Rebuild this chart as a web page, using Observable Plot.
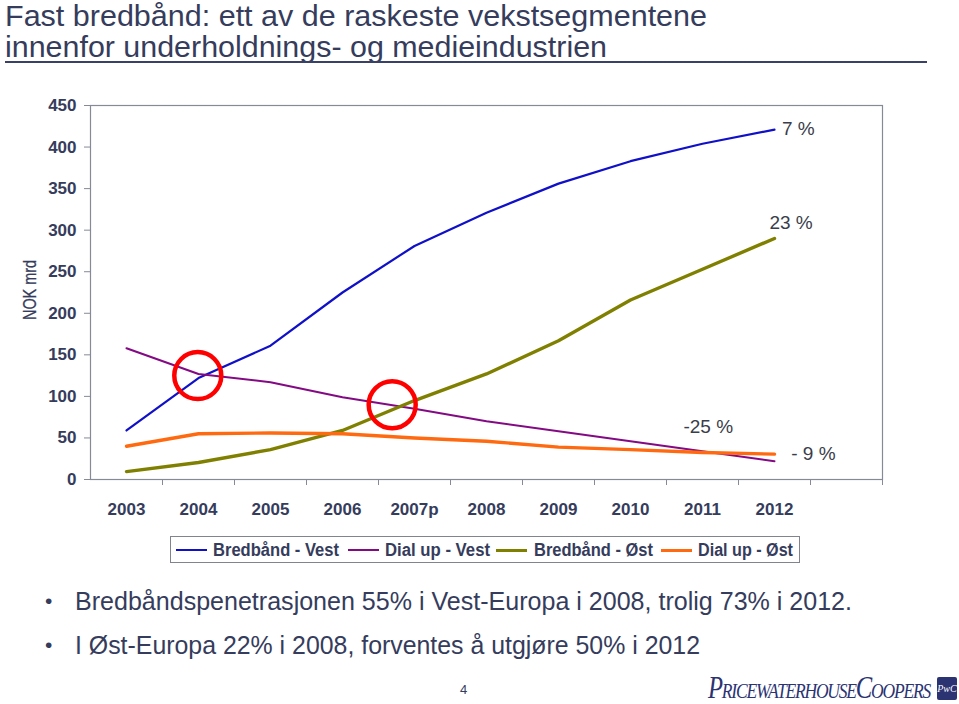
<!DOCTYPE html>
<html>
<head>
<meta charset="utf-8">
<script src="https://cdn.jsdelivr.net/npm/d3@7"></script>
<script src="https://cdn.jsdelivr.net/npm/@observablehq/plot@0.6"></script>
<style>
  html, body { margin: 0; padding: 0; background: #fff; }
  #page { position: relative; width: 959px; height: 704px; overflow: hidden; font-family: "Liberation Sans", Arial, sans-serif; color: #353c5c; }
  .title { position: absolute; left: 5px; font-size: 29.5px; line-height: 30px; white-space: nowrap; color: #353c5c; transform-origin: left center; }
  #rule { position: absolute; left: 5px; top: 61px; width: 922px; height: 2px; background: #3a4166; }
  #ylabel { position: absolute; left: 30px; top: 290px; font-size: 17.5px; line-height: 18px; white-space: nowrap; color: #353c5c; -webkit-text-stroke: 0.3px #353c5c; }
  #chart { position: absolute; left: 0; top: 95px; }
  #legendbox { position: absolute; left: 170px; top: 536px; width: 630px; height: 27px; border: 1px solid #80848f; box-sizing: border-box; }
  .lgsw { position: absolute; width: 31px; }
  .lgtx { position: absolute; top: 539px; font-weight: bold; font-size: 18px; line-height: 22px; white-space: nowrap; color: #353c5c; transform-origin: left center; }
  .bullet { position: absolute; left: 75px; font-size: 25px; line-height: 30px; white-space: nowrap; color: #353c5c; transform-origin: left center; }
  .dot { position: absolute; left: 45px; font-size: 21px; line-height: 24px; color: #353c5c; }
  #pagenum { position: absolute; left: 460px; top: 682px; font-size: 13px; }
  #logo { position: absolute; left: 708px; top: 671px; font-family: "Liberation Serif", serif; font-style: italic; font-size: 31px; line-height: 34px; font-variant: small-caps; letter-spacing: -1.5px; color: #2b3372; white-space: nowrap; transform-origin: left center; }
  #logobox { position: absolute; left: 937px; top: 677px; width: 20px; height: 23px; background: #2b3372; border-radius: 2px; color: #fff; font-size: 10px; font-family: "Liberation Serif", serif; font-style: italic; text-align: center; line-height: 23px; }
</style>
</head>
<body>
<div id="page">
  <div class="title fit" data-w="702" style="top:1px">Fast bredbånd: ett av de raskeste vekstsegmentene</div>
  <div class="title fit" data-w="602" style="top:32px">innenfor underholdnings- og medieindustrien</div>
  <div id="rule"></div>
  <div id="ylabel">NOK mrd</div>
  <div id="chart"></div>
  <div id="legendbox"></div>
  <div class="dot" style="top:589px">•</div>
  <div class="bullet fit" data-w="777" style="top:586px">Bredbåndspenetrasjonen 55% i Vest-Europa i 2008, trolig 73% i 2012.</div>
  <div class="dot" style="top:633px">•</div>
  <div class="bullet fit" data-w="625" style="top:630px">I Øst-Europa 22% i 2008, forventes å utgjøre 50% i 2012</div>
  <div id="pagenum">4</div>
  <div id="logo" class="fit" data-w="222">PricewaterhouseCoopers</div>
  <div id="logobox">PwC</div>
</div>
<script>
// ---- data ----
const years = ["2003", "2004", "2005", "2006", "2007p", "2008", "2009", "2010", "2011", "2012"];
const seriesNames = ["Bredbånd - Vest", "Dial up - Vest", "Bredbånd - Øst", "Dial up - Øst"];
const bredbandVest = [59, 122, 161, 225, 281, 321, 356, 383, 404, 421];
const dialupVest   = [158, 127, 117, 99, 85, 70, 58, 46, 34, 22];
const bredbandOst  = [9.5, 20.5, 36, 59, 95, 127, 167, 216, 253, 290];
const dialupOst    = [40, 55, 56, 55, 50, 46, 39, 36, 32.5, 30.5];
const yTicks = [0, 50, 100, 150, 200, 250, 300, 350, 400, 450];
// growth labels (x as year index, y in NOK mrd)
const growthLabels = ["7 %", "23 %", "-25 %", "- 9 %"];
const growthX = [9.33, 9.23, 8.08, 9.54];
const growthY = [422, 309, 63, 31];
// highlighted crossings (x as year index, y in NOK mrd)
const crossX = [0.99, 3.69];
const crossY = [125, 90];

const colors = ["#1010c8", "#840a84", "#808000", "#ff6a10"];
const widths = [2.2, 2, 3.4, 3.4];
const values = [bredbandVest, dialupVest, bredbandOst, dialupOst];

const lineData = seriesNames.map((name, s) => years.map((y, i) => ({series: name, i, value: values[s][i]})));
const bounds = years.map((_, i) => i + 0.5).concat([10.5]);
const labels = growthLabels.map((t, k) => ({t, x: growthX[k], y: growthY[k]}));
const circles = crossX.map((x, k) => ({x, y: crossY[k]}));

const axisColor = "#858a96";
const textColor = "#353c5c";

const chart = Plot.plot({
  width: 959,
  height: 430,
  marginLeft: 90,
  marginRight: 77,
  marginTop: 10,
  marginBottom: 46,
  style: {fontFamily: "'Liberation Sans', Arial, sans-serif", background: "transparent", overflow: "visible"},
  x: {domain: [-0.5, 10.5], axis: null},
  y: {domain: [0, 450], axis: null},
  marks: [
    Plot.frame({stroke: axisColor, strokeWidth: 1.2}),
    Plot.axisY({ticks: yTicks, tickSize: 6, tickPadding: 8, stroke: axisColor, fill: textColor, fontWeight: "bold", fontSize: 17, label: null}),
    Plot.axisX({ticks: bounds, tickSize: 6, tickFormat: () => "", stroke: axisColor, label: null}),
    Plot.axisX({ticks: d3.range(years.length), tickSize: 0, tickPadding: 23, tickFormat: i => years[i], fill: textColor, fontWeight: "bold", fontSize: 17, label: null}),
    ...lineData.map((d, s) => Plot.line(d, {x: "i", y: "value", stroke: colors[s], strokeWidth: widths[s]})),
    Plot.text(labels, {x: "x", y: "y", text: "t", fill: "#3a3d4a", fontSize: 19, textAnchor: "middle"}),
    Plot.dot(circles, {x: "x", y: "y", r: 23.5, stroke: "#ff0000", strokeWidth: 4.5, fill: "none"})
  ]
});
document.getElementById("chart").appendChild(chart);

// legend (swatch and text start positions in page pixels)
const page = document.getElementById("page");
const swX = [176, 348, 496, 661];
const txX = [213, 385, 534, 698];
const txW = [126, 105, 119, 95];
seriesNames.forEach((name, s) => {
  const sw = document.createElement("div");
  sw.className = "lgsw";
  const h = s < 2 ? 2 : 3;
  sw.style.left = swX[s] + "px";
  sw.style.top = (550 - h / 2) + "px";
  sw.style.height = h + "px";
  sw.style.background = colors[s];
  page.appendChild(sw);
  const t = document.createElement("div");
  t.className = "lgtx fit";
  t.dataset.w = txW[s];
  t.style.left = txX[s] + "px";
  t.textContent = name;
  page.appendChild(t);
});

// fit text widths to the reference layout
document.querySelectorAll(".fit").forEach(el => {
  const w = el.getBoundingClientRect().width;
  const target = +el.dataset.w;
  if (w > 0) el.style.transform = `scaleX(${target / w})`;
});
// rotated axis title, stretched to the reference length
const yl = document.getElementById("ylabel");
const ylw = yl.getBoundingClientRect().width;
yl.style.transform = `translate(-50%, -50%) rotate(-90deg) scaleX(${60 / ylw})`;
</script>
</body>
</html>
